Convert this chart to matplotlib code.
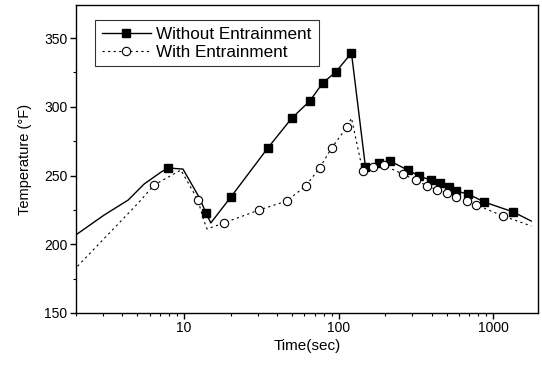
import numpy as np
import matplotlib.pyplot as plt
from matplotlib.ticker import LogLocator, NullFormatter, MultipleLocator

plt.rcParams['font.family'] = ['Liberation Sans', 'DejaVu Sans']

# Without entrainment (solid line, filled squares)
t_without = [2.04, 3.05, 4.36, 5.52, 7.1, 7.89, 9.85, 12.5, 13.9, 14.9, 20.1, 34.8, 49.8,
             65.0, 78.8, 95.7, 121, 149, 181, 216, 279, 333, 393, 449, 513, 577, 690,
             875, 1346, 1758]
T_without = [207.5, 221.3, 232.2, 243.8, 252.5, 255.5, 254.7, 234.4, 222.7, 215.5, 234.4,
             270, 291.8, 304.2, 317.3, 325.3, 339.1, 256.2, 259.1, 260.5, 254, 249.6,
             246.7, 244.5, 241.6, 238.7, 236.5, 230.7, 223.5, 216.9]
mark_without = [5, 8, 10, 11, 12, 13, 14, 15, 16, 17, 18, 19, 20, 21, 22, 23, 24, 25, 26,
                27, 28]

# With entrainment (dotted line, open circles)
t_with = [2.05, 5.13, 6.4, 9.55, 12.3, 13.4, 14.1, 18.1, 30.5, 46.2, 61.2, 75.3, 90, 113,
          121, 143, 166, 195, 259, 314, 375, 435, 505, 577, 679, 777, 1161, 1758]
T_with = [184.0, 230.7, 243.1, 254, 232.2, 217.6, 211.1, 215.5, 224.9, 231.5, 242.4, 255.5,
          270, 285.3, 291.8, 253.3, 256.2, 257.6, 251.1, 246.7, 242.4, 239.5, 237.3, 234.4,
          231.5, 228.5, 220.5, 213.3]
mark_with = [2, 4, 7, 8, 9, 10, 11, 12, 13, 15, 16, 17, 18, 19, 20, 21, 22, 23, 24, 25, 26]

fig = plt.figure(figsize=(5.42, 3.65), dpi=100)
ax = fig.add_axes([0.140, 0.1425, 0.853, 0.8435])

ax.plot(t_without, T_without, '-', color='black', lw=1.0, marker='s', ms=6,
        markevery=mark_without, mfc='black', mec='black', label='Without Entrainment')
ax.plot(t_with, T_with, color='black', lw=0.8, ls=(0, (2, 3)), marker='o', ms=6,
        markevery=mark_with, mfc='white', mec='black', mew=0.8, label='With Entrainment')

ax.set_xscale('log')
ax.set_xlim(2.0, 1950)
ax.set_ylim(150, 374)
ax.set_xticks([10, 100, 1000])
ax.set_xticklabels(['10', '100', '1000'])
ax.xaxis.set_minor_locator(LogLocator(base=10, subs=np.arange(2, 10)))
ax.xaxis.set_minor_formatter(NullFormatter())
ax.set_yticks([150, 200, 250, 300, 350])
ax.yaxis.set_minor_locator(MultipleLocator(25))

ax.tick_params(which='major', direction='out', length=4, width=1, labelsize=10, pad=2)
ax.tick_params(which='minor', direction='out', length=2, width=0.8)
for s in ax.spines.values():
    s.set_linewidth(1.0)

ax.set_xlabel('Time(sec)', fontsize=11, labelpad=3)
ax.set_ylabel('Temperature (°F)', fontsize=10.5, labelpad=9)

leg = ax.legend(loc='upper left', bbox_to_anchor=(0.041, 0.951), fontsize=12.3,
                frameon=True, fancybox=False, edgecolor='black', handlelength=2.9,
                borderpad=0.4, labelspacing=0.15, handletextpad=0.3, borderaxespad=0)
leg.get_frame().set_linewidth(0.8)

fig.savefig('out.png', dpi=100)
